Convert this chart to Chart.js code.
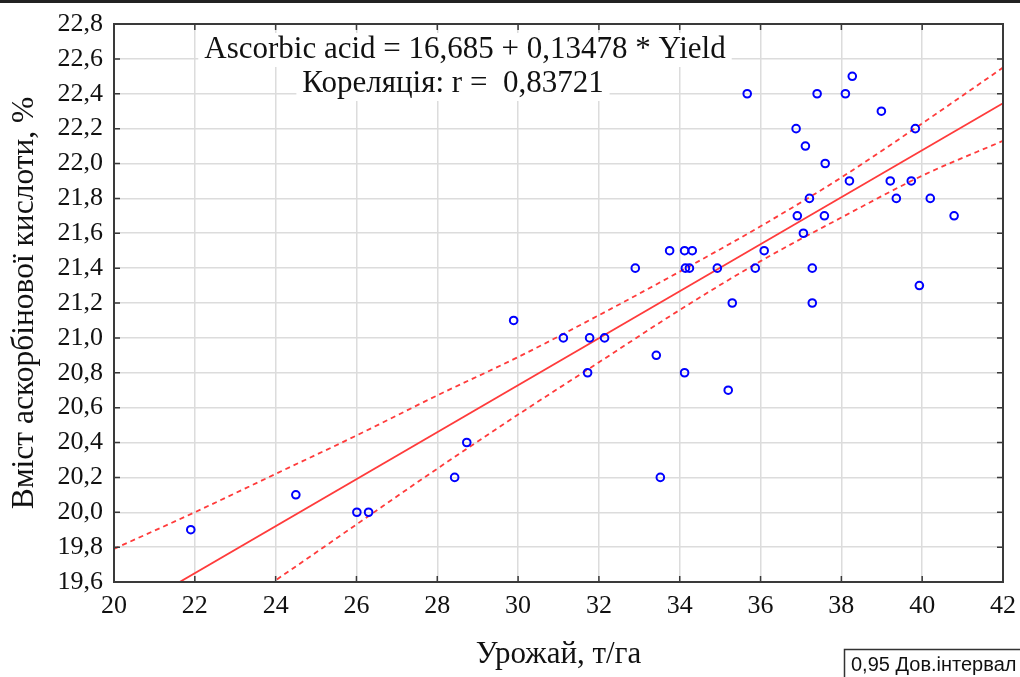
<!DOCTYPE html>
<html>
<head>
<meta charset="utf-8">
<title>Ascorbic acid vs Yield</title>
<script src="https://cdn.jsdelivr.net/npm/chart.js@4.4.0/dist/chart.umd.min.js"></script>
<style>
  html, body { margin: 0; padding: 0; background: #fff; }
</style>
</head>
<body>
<canvas id="myChart" width="1020" height="677"></canvas>
<script>
// yield (t/ha) and ascorbic acid content (%)
var yieldX = [21.90, 24.50, 26.01, 26.30, 28.43, 28.73, 29.89, 31.12, 31.72, 31.77,
              32.14, 32.90, 33.42, 33.52, 33.75, 34.12, 34.12, 34.14, 34.24, 34.31,
              34.93, 35.20, 35.30, 35.67, 35.87, 36.09, 36.88, 36.91, 37.11, 37.06,
              37.21, 37.28, 37.28, 37.40, 37.60, 37.58, 38.10, 38.20, 38.27, 38.99,
              39.21, 39.36, 39.73, 39.83, 39.93, 40.20, 40.79];
var acid   = [19.9, 20.1, 20.0, 20.0, 20.2, 20.4, 21.1, 21.0, 20.8, 21.0,
              21.0, 21.4, 20.9, 20.2, 21.5, 21.5, 20.8, 21.4, 21.4, 21.5,
              21.4, 20.7, 21.2, 22.4, 21.4, 21.5, 22.2, 21.7, 22.1, 21.6,
              21.8, 21.4, 21.2, 22.4, 22.0, 21.7, 22.4, 21.9, 22.5, 22.3,
              21.9, 21.8, 21.9, 22.2, 21.3, 21.8, 21.7];

// regression line ends (Ascorbic acid = 16,685 + 0,13478 * Yield)
var fitX = [20, 42];
var fitY = [19.381, 22.346];

// 0,95 confidence band
var bandX  = [20, 22, 24, 26, 28, 30, 32, 34, 36, 38, 40, 42];
var bandHi = [19.79, 20.00, 20.22, 20.44, 20.67, 20.89, 21.13, 21.38, 21.64, 21.92, 22.23, 22.55];
var bandLo = [18.97, 19.30, 19.61, 19.93, 20.25, 20.56, 20.86, 21.16, 21.44, 21.69, 21.93, 22.13];

var xTicks = [20, 22, 24, 26, 28, 30, 32, 34, 36, 38, 40, 42];
var yTicks = [19.6, 19.8, 20.0, 20.2, 20.4, 20.6, 20.8, 21.0, 21.2, 21.4, 21.6, 21.8, 22.0, 22.2, 22.4, 22.6, 22.8];

var eqText = 'Ascorbic acid = 16,685 + 0,13478 * Yield';
var rText = 'Кореляція: r =  0,83721';
var legendText = '0,95 Дов.інтервал';

function zipXY(xs, ys) {
  return xs.map(function (v, i) { return { x: v, y: ys[i] }; });
}

var serif = "'Liberation Serif', 'Times New Roman', serif";
var sans = "'Liberation Sans', Arial, sans-serif";

var framePlugin = {
  id: 'frame',
  beforeDraw: function (chart) {
    var c = chart.ctx;
    c.save();
    c.fillStyle = '#fff';
    c.fillRect(0, 0, chart.width, chart.height);
    c.fillStyle = '#222';
    c.fillRect(0, 0, chart.width, 3);
    c.restore();
  },
  beforeDatasetsDraw: function (chart) {
    // equation text on white boxes over the grid
    var c = chart.ctx, a = chart.chartArea;
    c.save();
    c.font = '31px ' + serif;
    c.textAlign = 'center';
    c.textBaseline = 'middle';
    var lines = [[eqText, a.left + 351, a.top + 26], [rText, a.left + 339, a.top + 60]];
    lines.forEach(function (l) {
      var w = c.measureText(l[0]).width;
      c.fillStyle = '#fff';
      c.fillRect(l[1] - w / 2 - 6, l[2] - 17, w + 12, 34);
    });
    c.fillStyle = '#111';
    lines.forEach(function (l) { c.fillText(l[0], l[1], l[2]); });
    c.restore();
  },
  afterDatasetsDraw: function (chart) {
    var c = chart.ctx, a = chart.chartArea;
    var xs = chart.scales.x, ys = chart.scales.y;
    c.save();
    // frame
    c.strokeStyle = '#3a3a3a';
    c.lineWidth = 2;
    c.strokeRect(a.left, a.top, a.right - a.left, a.bottom - a.top);
    // inner tick marks
    c.lineWidth = 1.5;
    c.beginPath();
    xTicks.forEach(function (v) {
      var px = xs.getPixelForValue(v);
      c.moveTo(px, a.bottom); c.lineTo(px, a.bottom - 6);
      c.moveTo(px, a.top); c.lineTo(px, a.top + 6);
    });
    yTicks.forEach(function (v) {
      var py = ys.getPixelForValue(v);
      c.moveTo(a.left, py); c.lineTo(a.left + 6, py);
      c.moveTo(a.right, py); c.lineTo(a.right - 6, py);
    });
    c.stroke();
    // legend box, bottom right
    c.fillStyle = '#fff';
    c.fillRect(844, 649, 200, 40);
    c.strokeStyle = '#333';
    c.lineWidth = 1.5;
    c.strokeRect(844.5, 649.5, 200, 40);
    c.fillStyle = '#111';
    c.font = '20px ' + sans;
    c.textAlign = 'left';
    c.textBaseline = 'middle';
    c.fillText(legendText, 851, 665);
    c.restore();
  }
};

var ctx = document.getElementById('myChart').getContext('2d');
var chart = new Chart(ctx, {
  type: 'scatter',
  data: {
    datasets: [
      {
        label: 'Ascorbic acid',
        data: zipXY(yieldX, acid),
        showLine: false,
        pointStyle: 'circle',
        pointRadius: 3.8,
        pointBorderWidth: 2,
        borderColor: '#0000ff',
        backgroundColor: 'rgba(0,0,0,0)',
        order: 0
      },
      {
        label: 'Fit',
        data: zipXY(fitX, fitY),
        showLine: true,
        borderColor: '#ff3b3b',
        borderWidth: 1.8,
        pointRadius: 0,
        order: 1
      },
      {
        label: '0,95 upper',
        data: zipXY(bandX, bandHi),
        showLine: true,
        borderColor: '#ff3b3b',
        borderWidth: 1.8,
        borderDash: [5, 4],
        cubicInterpolationMode: 'monotone',
        pointRadius: 0,
        order: 2
      },
      {
        label: '0,95 lower',
        data: zipXY(bandX, bandLo),
        showLine: true,
        borderColor: '#ff3b3b',
        borderWidth: 1.8,
        borderDash: [5, 4],
        cubicInterpolationMode: 'monotone',
        pointRadius: 0,
        order: 3
      }
    ]
  },
  options: {
    responsive: false,
    animation: false,
    layout: { padding: { top: 24, right: 17, left: 0, bottom: 0 } },
    plugins: { legend: { display: false }, tooltip: { enabled: false } },
    scales: {
      x: {
        type: 'linear',
        min: 20,
        max: 42,
        afterBuildTicks: function (s) { s.ticks = xTicks.map(function (v) { return { value: v }; }); },
        afterFit: function (s) { s.height = 95; s.paddingLeft = 0; s.paddingRight = 0; },
        grid: { color: '#dcdcdc', lineWidth: 1.5, drawTicks: false },
        border: { display: false },
        ticks: {
          font: { family: serif, size: 26 },
          color: '#111',
          padding: 9,
          maxRotation: 0,
          callback: function (v) { return String(v); }
        },
        title: {
          display: true,
          text: 'Урожай, т/га',
          font: { family: serif, size: 31 },
          color: '#111',
          padding: { top: 0, bottom: 4 }
        }
      },
      y: {
        type: 'linear',
        min: 19.6,
        max: 22.8,
        afterBuildTicks: function (s) { s.ticks = yTicks.map(function (v) { return { value: v }; }); },
        afterFit: function (s) { s.width = 114; s.paddingTop = 0; s.paddingBottom = 0; },
        grid: { color: '#dcdcdc', lineWidth: 1.5, drawTicks: false },
        border: { display: false },
        ticks: {
          font: { family: serif, size: 26 },
          color: '#111',
          padding: 11,
          callback: function (v) { return v.toFixed(1).replace('.', ','); }
        },
        title: {
          display: true,
          text: 'Вміст аскорбінової кислоти, %',
          font: { family: serif, size: 31.5 },
          color: '#111',
          padding: { top: 6, bottom: 0 }
        }
      }
    }
  },
  plugins: [framePlugin]
});
</script>
</body>
</html>
